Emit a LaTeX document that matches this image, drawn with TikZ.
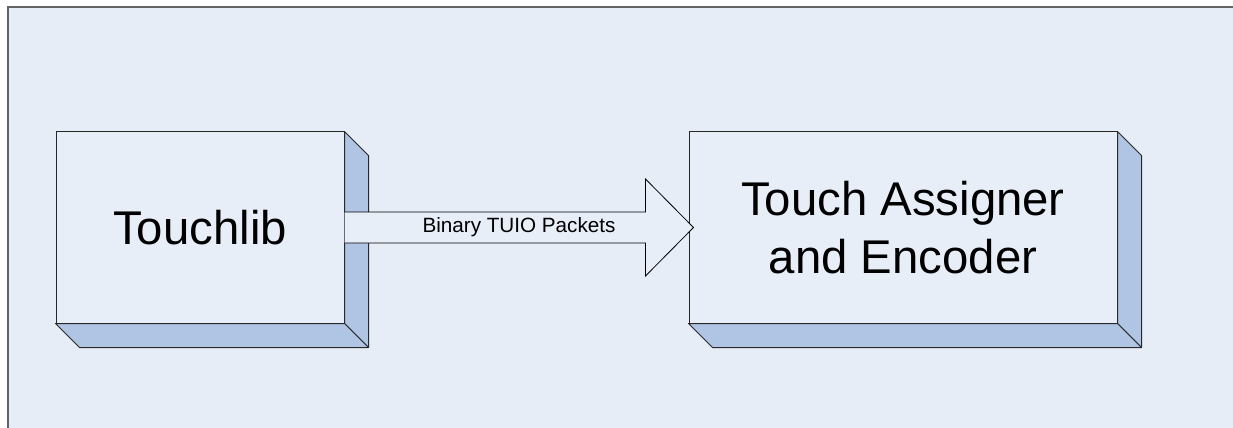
\documentclass[tikz,border=0pt]{standalone}
\usepackage{fontspec}
\setmainfont{Liberation Sans}
\usetikzlibrary{calc}

\definecolor{bgblue}{RGB}{230,237,247}
\definecolor{faceblue}{RGB}{232,238,248}
\definecolor{sideblue}{RGB}{176,196,228}
\definecolor{framegray}{RGB}{100,100,100}

\tikzset{
  frontbox/.style={draw={rgb,255:red,40;green,40;blue,40},fill=faceblue,line width=0.75,
    align=center,inner sep=0pt,font=\fontsize{35.5}{43.5}\selectfont},
  sideface/.style={draw={rgb,255:red,40;green,40;blue,40},fill=sideblue,line width=0.75,line join=round},
  blockarrow/.style={draw=black,fill=faceblue,line width=0.6},
  arrowlabel/.style={font=\fontsize{15.5}{18}\selectfont,inner sep=0pt}
}

% depth faces of a box node
\newcommand{\boxdepth}[1]{%
  \filldraw[sideface] (#1.north east) -- ++(24,24) -- ($(#1.south east)+(24,24)$) -- (#1.south east) -- cycle;
  \filldraw[sideface] (#1.south west) -- ++(24,24) -- ($(#1.south east)+(24,24)$) -- (#1.south east) -- cycle;
}

\begin{document}
\begin{tikzpicture}[x=0.75pt,y=0.75pt,yscale=-1,xscale=1]
\useasboundingbox (0,0) rectangle (1233,428);

%Background panel
\fill[white] (0,0) rectangle (1233,428);
\fill[bgblue] (7.5,7.5) rectangle (1233,428);
\draw[framegray,line width=1.5] (7.5,428) -- (7.5,7.5) -- (1233,7.5);

%Shape: Box [touchlib]
\node[frontbox,minimum width=216pt,minimum height=143.25pt] (touchlib) at (200,227.5) {Touchlib};
\boxdepth{touchlib}

%Shape: Box [assigner]
\node[frontbox,minimum width=321pt,minimum height=143.25pt] (assigner) at (903,227.5) {Touch Assigner\\and Encoder};
\boxdepth{assigner}

%Shape: Right Arrow
\coordinate (tip) at ($(assigner.west)+(5,0)$);
\filldraw[blockarrow] ($(touchlib.east)+(0,-15.5)$) -- ($(tip)+(-48,-15.5)$) -- ($(tip)+(-48,-48.5)$)
  -- (tip) -- ($(tip)+(-48,48.5)$) -- ($(tip)+(-48,15.5)$) -- ($(touchlib.east)+(0,15.5)$);

% Text Node
\node[arrowlabel] (packets) at ($(touchlib.east)!0.5!(tip)$) {Binary TUIO Packets};

\end{tikzpicture}
\end{document}
